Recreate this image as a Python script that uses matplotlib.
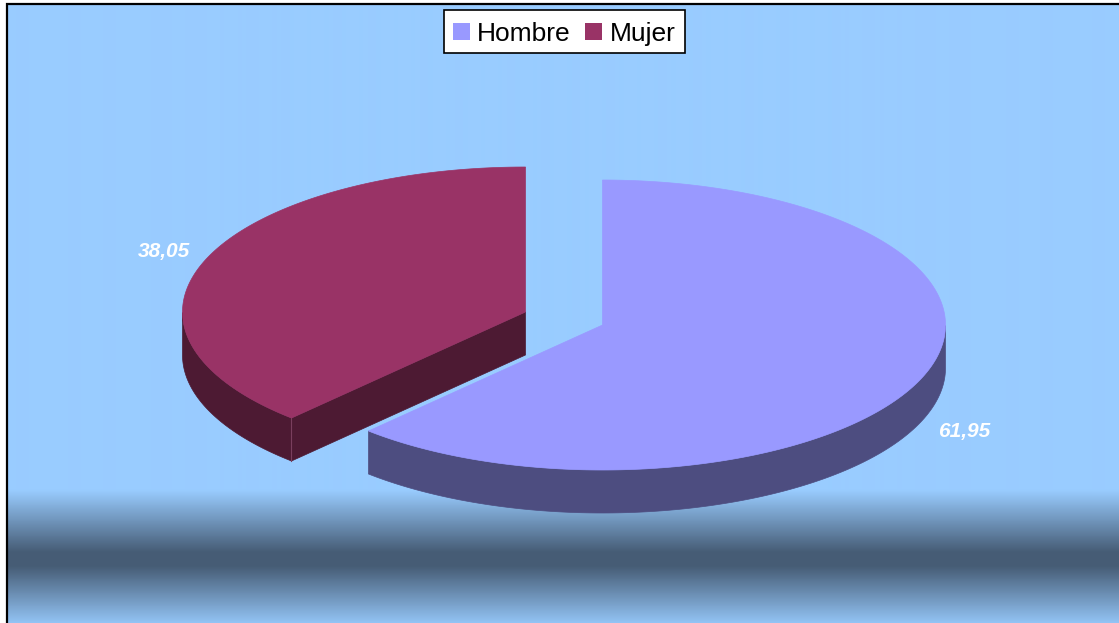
import numpy as np
import matplotlib
matplotlib.use("Agg")
from matplotlib import pyplot as plt
from matplotlib.colors import LinearSegmentedColormap
from matplotlib.patches import Patch, Polygon, Rectangle

categories = ["Hombre", "Mujer"]
shares = [61.95, 38.05]
share_labels = ["61,95", "38,05"]

top_colors = ["#9999ff", "#993366"]
side_colors = ["#4d4d80", "#4d1a33"]
centers = [(602.5, 325), (525.5, 312)]
label_pos = [(964, 431), (164, 251.5)]
rx, ry, depth = 343, 145, 43

plt.rcParams["font.family"] = ["Liberation Sans", "DejaVu Sans"]

fig = plt.figure(figsize=(11.19, 6.23), dpi=100, facecolor="white")
ax = fig.add_axes([0, 0, 1, 1])

# background band, light blue with a dark stripe near the bottom
light = "#99ccff"
dark = "#465c75"
cmap = LinearSegmentedColormap.from_list("band", [light, dark, light])
rows = np.arange(5, 623) + 0.5
grad = np.interp(rows, [490, 552, 566, 624], [0, 0.5, 0.5, 0.97]).reshape(-1, 1)
ax.imshow(grad, cmap=cmap, vmin=0, vmax=1, aspect="auto",
          extent=(8, 1119, 623, 5), interpolation="bilinear", zorder=0)
ax.set_xlim(0, 1119)
ax.set_ylim(623, 0)
ax.axis("off")

# frame only shows on left and top
ax.plot([7, 7, 1119], [623, 4, 4], color="black", lw=1.6, zorder=1,
        solid_joinstyle="miter")


def rim(cx, cy, t):
    return np.column_stack([cx + rx * np.sin(t), cy - ry * np.cos(t)])


# slices go clockwise from 12 o'clock
angles = np.cumsum([0] + shares) / 100 * 2 * np.pi
for i in range(len(shares)):
    cx, cy = centers[i]
    t = np.linspace(angles[i], angles[i + 1], 300)
    top = rim(cx, cy, t)

    # outer wall, only the part that faces the viewer
    front = t[(t >= np.pi / 2) & (t <= 3 * np.pi / 2)]
    wall = rim(cx, cy, front)
    shifted = wall[::-1] + [0, depth]
    ax.add_patch(Polygon(np.vstack([wall, shifted]), closed=True,
                         fc=side_colors[i], ec=side_colors[i], lw=0.5, zorder=2 + i))

    # the cut face of the second slice is visible
    if i == 1:
        edge = rim(cx, cy, np.array([angles[i]]))[0]
        face = [(cx, cy), tuple(edge), (edge[0], edge[1] + depth), (cx, cy + depth)]
        ax.add_patch(Polygon(face, closed=True, fc=side_colors[i],
                             ec=side_colors[i], lw=0.5, zorder=2 + i))
        ax.plot([edge[0], edge[0]], [edge[1], edge[1] + depth], color="#7a3f5e",
                lw=0.8, zorder=3 + i)

    ax.add_patch(Polygon(np.vstack([[cx, cy], top]), closed=True,
                         fc=top_colors[i], ec=top_colors[i], lw=0.5, zorder=3 + i))

    ax.text(label_pos[i][0], label_pos[i][1], share_labels[i], color="white",
            fontsize=15, fontweight="bold", fontstyle="italic",
            ha="center", va="center", zorder=6)

# legend contents sit a bit low in their box, so the box is drawn apart
ax.add_patch(Rectangle((443.5, 9.5), 241, 43.5, fc="white", ec="black", lw=1.2, zorder=9))
handles = [Patch(fc=c, ec="none") for c in top_colors]
leg = ax.legend(handles, categories, ncol=2, loc="center",
                bbox_to_anchor=(564 / 1119, 1 - 34 / 623),
                fontsize=19, frameon=False,
                handlelength=0.64, handleheight=0.64, handletextpad=0.28,
                columnspacing=0.55, borderpad=0.35, borderaxespad=0)
leg.set_zorder(10)

fig.savefig("out.png", dpi=100)
